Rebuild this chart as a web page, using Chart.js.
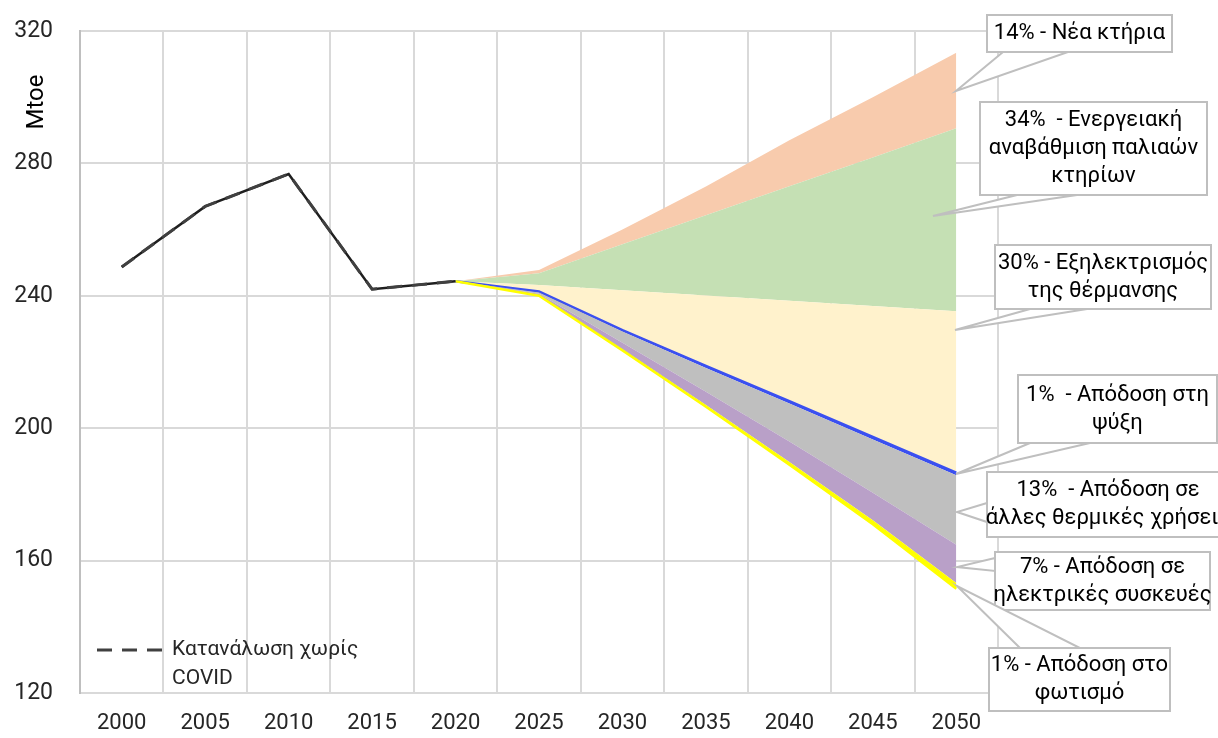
<!DOCTYPE html>
<html>
<head>
<meta charset="utf-8">
<script src="https://cdn.jsdelivr.net/npm/chart.js@4.4.1/dist/chart.umd.min.js"></script>
<style>
  body { margin: 0; background: #fff; }
  canvas { display: block; }
</style>
</head>
<body>
<canvas id="energyChart" width="1218" height="738"></canvas>
<script>
const years = ['2000', '2005', '2010', '2015', '2020', '2025', '2030', '2035', '2040', '2045', '2050'];
const yTicks = [120, 160, 200, 240, 280, 320];

// historic consumption (solid) and consumption without COVID (dashed)
const consumption = [248.7, 267.0, 276.8, 242.0, 244.4, null, null, null, null, null, null];
const noCovid = [248.7, 267.0, 276.8, 242.0, 244.4, null, null, null, null, null, null];

// boundaries of the savings bands, bottom to top
const lightingBase = [null, null, null, null, 244.4, 240.0, 223.5, 206.5, 189.0, 171.0, 151.5];
const lightingTop = [null, null, null, null, 244.4, 240.2, 223.8, 207.0, 189.8, 172.2, 153.2];
const appliancesTop = [null, null, null, null, 244.4, 240.6, 225.8, 211.0, 196.0, 180.5, 164.8];
const thermalTop = [null, null, null, null, 244.4, 241.0, 229.2, 218.2, 207.5, 196.6, 185.8];
const coolingTop = [null, null, null, null, 244.4, 241.3, 229.6, 218.8, 208.2, 197.4, 186.6];
const heatingTop = [null, null, null, null, 244.4, 243.3, 241.7, 240.1, 238.5, 236.9, 235.3];
const renovationTop = [null, null, null, null, 244.4, 246.8, 255.6, 264.3, 273.1, 281.8, 290.6];
const newBuildTop = [null, null, null, null, 244.4, 247.8, 260.0, 273.0, 287.0, 300.0, 313.4];

const legendText = ['Κατανάλωση χωρίς', 'COVID'];
const callouts = [
  { lines: ['14% - Νέα κτήρια'], box: [987, 15, 185, 37], tip: [956, 91], base: [[1003, 52], [1068, 52]] },
  { lines: ['34%  - Ενεργειακή', 'αναβάθμιση παλιαών', 'κτηρίων'], box: [980, 102, 227, 93], tip: [933, 216], base: [[1017, 195], [1077, 195]] },
  { lines: ['30% - Εξηλεκτρισμός', 'της θέρμανσης'], box: [995, 245, 216, 64], tip: [955, 330], base: [[1030, 309], [1087, 309]] },
  { lines: ['1%  - Απόδοση στη', 'ψύξη'], box: [1018, 375, 199, 68], tip: [956, 474], base: [[1030, 443], [1090, 443]] },
  { lines: ['13%  - Απόδοση σε', 'άλλες θερμικές χρήσεις'], box: [987, 472, 242, 65], tip: [957, 512], base: [[987, 503], [987, 522]] },
  { lines: ['7% - Απόδοση σε', 'ηλεκτρικές συσκευές'], box: [995, 552, 215, 58], tip: [957, 567], base: [[995, 558], [995, 571]] },
  { lines: ['1% - Απόδοση στο', 'φωτισμό'], box: [989, 648, 181, 63], tip: [957, 586], base: [[1020, 648], [1080, 648]] }
];

const FONT = 'Roboto, "Noto Sans", sans-serif';
const GRID = '#d9d9d9';
const EDGE = '#bfbfbf';

const band = (data, color, border, width) => ({
  data: data,
  fill: '-1',
  backgroundColor: color,
  borderColor: border || color,
  borderWidth: width || 0,
  pointRadius: 0,
  tension: 0
});

// draws the axis title, the inline legend and the callout boxes
const extrasPlugin = {
  id: 'extras',
  afterDraw(chart) {
    const ctx = chart.ctx;
    ctx.save();

    ctx.fillStyle = '#000';
    ctx.font = '24px ' + FONT;
    ctx.textAlign = 'center';
    ctx.textBaseline = 'middle';
    ctx.translate(37, 102);
    ctx.rotate(-Math.PI / 2);
    ctx.fillText('Mtoe', 0, 0);
    ctx.setTransform(1, 0, 0, 1, 0, 0);

    ctx.strokeStyle = '#404040';
    ctx.lineWidth = 3;
    ctx.setLineDash([15, 10]);
    ctx.beginPath();
    ctx.moveTo(97, 650);
    ctx.lineTo(163, 650);
    ctx.stroke();
    ctx.setLineDash([]);
    ctx.fillStyle = '#262626';
    ctx.textAlign = 'left';
    ctx.font = '21px ' + FONT;
    legendText.forEach((t, i) => ctx.fillText(t, 172, 650 + i * 29));

    ctx.lineWidth = 2;
    ctx.strokeStyle = EDGE;
    ctx.textAlign = 'center';
    ctx.font = '22px ' + FONT;
    callouts.forEach(c => {
      ctx.beginPath();
      ctx.moveTo(c.base[0][0], c.base[0][1]);
      ctx.lineTo(c.tip[0], c.tip[1]);
      ctx.lineTo(c.base[1][0], c.base[1][1]);
      ctx.closePath();
      ctx.fillStyle = '#fff';
      ctx.fill();
      ctx.stroke();

      const [x, y, w, h] = c.box;
      ctx.fillRect(x, y, w, h);
      ctx.strokeRect(x, y, w, h);

      ctx.fillStyle = '#000';
      const lh = 28;
      const y0 = y + h / 2 - (c.lines.length - 1) * lh / 2;
      c.lines.forEach((t, i) => ctx.fillText(t, x + w / 2, y0 + i * lh));
    });
    ctx.restore();
  }
};

const chart = new Chart(document.getElementById('energyChart').getContext('2d'), {
  type: 'line',
  data: {
    labels: years,
    datasets: [
      { data: noCovid, borderColor: '#404040', borderWidth: 3, borderDash: [15, 10], pointRadius: 0, fill: false },
      { data: consumption, borderColor: '#1f1f1f', borderWidth: 2.5, pointRadius: 0, fill: false },
      { data: lightingBase, fill: false, borderColor: '#ffff00', borderWidth: 2.5, pointRadius: 0 },
      band(lightingTop, '#ffff00'),
      band(appliancesTop, '#b9a0c8'),
      band(thermalTop, '#bfbfbf'),
      band(coolingTop, '#3b50f0', '#3b50f0', 2.5),
      band(heatingTop, '#fff2cc'),
      band(renovationTop, '#c5e0b4'),
      band(newBuildTop, '#f8cbad')
    ]
  },
  options: {
    responsive: false,
    animation: false,
    layout: { padding: { top: 31, right: 220, bottom: 0, left: 0 } },
    plugins: {
      legend: { display: false },
      tooltip: { enabled: false }
    },
    scales: {
      x: {
        type: 'category',
        offset: true,
        grid: { color: GRID, lineWidth: 2, drawTicks: false, offset: true },
        border: { color: GRID, width: 2 },
        ticks: { color: '#262626', font: { family: FONT, size: 22 }, padding: 17, maxRotation: 0 },
        afterFit: s => { s.height = 45; s.paddingLeft = 0; s.paddingRight = 0; }
      },
      y: {
        min: 120,
        max: 320,
        afterBuildTicks: s => { s.ticks = yTicks.map(v => ({ value: v })); },
        grid: { color: GRID, lineWidth: 2, drawTicks: false },
        border: { color: EDGE, width: 2 },
        ticks: { color: '#262626', font: { family: FONT, size: 23 }, padding: 27 },
        afterFit: s => { s.width = 80; s.paddingTop = 0; s.paddingBottom = 0; }
      }
    }
  },
  plugins: [extrasPlugin]
});
</script>
</body>
</html>
